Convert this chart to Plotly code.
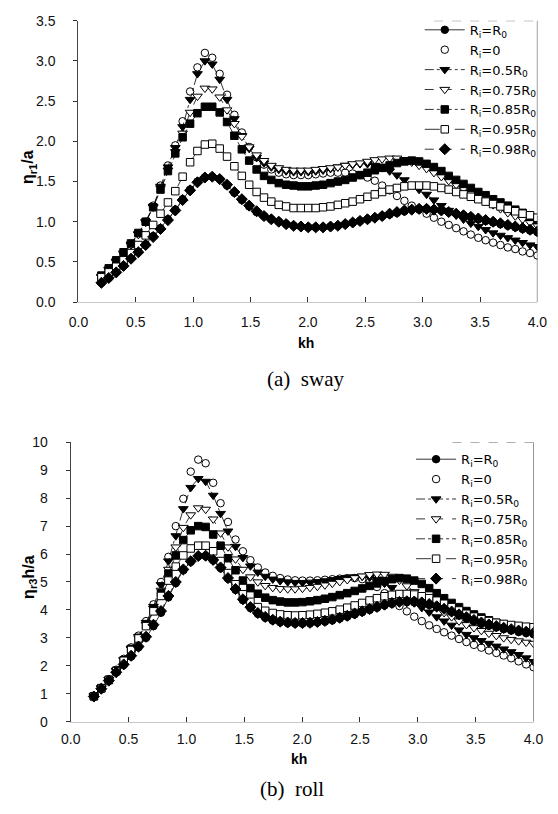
import plotly.graph_objects as go

# ---------------- data ----------------
kh = [0.200, 0.264, 0.329, 0.393, 0.458, 0.522, 0.586, 0.651, 0.715, 0.780,
      0.844, 0.908, 0.973, 1.037, 1.102, 1.166, 1.231, 1.295, 1.359, 1.424,
      1.488, 1.553, 1.617, 1.681, 1.746, 1.810, 1.875, 1.939, 2.003, 2.068,
      2.132, 2.197, 2.261, 2.325, 2.390, 2.454, 2.519, 2.583, 2.647, 2.712,
      2.776, 2.841, 2.905, 2.969, 3.034, 3.098, 3.163, 3.227, 3.292, 3.356,
      3.420, 3.485, 3.549, 3.614, 3.678, 3.742, 3.807, 3.871, 3.936, 4.000]

legend_names = ["R<sub>i</sub>=R<sub>0</sub>", "R<sub>i</sub>=0", "R<sub>i</sub>=0.5R<sub>0</sub>",
                "R<sub>i</sub>=0.75R<sub>0</sub>", "R<sub>i</sub>=0.85R<sub>0</sub>",
                "R<sub>i</sub>=0.95R<sub>0</sub>", "R<sub>i</sub>=0.98R<sub>0</sub>"]

# (a) sway  eta_r1/a
sway_R0 = [0.24,0.30,0.38,0.46,0.55,0.63,0.72,0.82,0.92,1.03,1.15,1.28,1.40,1.50,1.55,1.56,1.53,1.45,1.36,1.27,
           1.19,1.12,1.07,1.03,1.00,0.97,0.95,0.94,0.93,0.93,0.93,0.94,0.95,0.97,0.99,1.01,1.03,1.05,1.07,1.09,
           1.11,1.13,1.15,1.16,1.16,1.15,1.14,1.12,1.10,1.08,1.06,1.03,1.01,0.99,0.97,0.95,0.93,0.91,0.89,0.87]
sway_0 = [0.32,0.41,0.51,0.61,0.72,0.85,1.00,1.20,1.45,1.70,1.95,2.25,2.62,2.92,3.10,3.04,2.84,2.58,2.33,2.11,
          1.93,1.80,1.71,1.65,1.61,1.59,1.58,1.58,1.58,1.59,1.60,1.61,1.61,1.61,1.60,1.58,1.55,1.51,1.45,1.39,
          1.32,1.26,1.20,1.15,1.10,1.05,1.00,0.96,0.92,0.88,0.84,0.80,0.77,0.74,0.71,0.68,0.66,0.63,0.61,0.58]
sway_050 = [0.32,0.41,0.51,0.61,0.72,0.85,1.00,1.19,1.44,1.68,1.92,2.18,2.52,2.84,3.00,2.96,2.77,2.52,2.28,2.07,
            1.91,1.80,1.73,1.68,1.65,1.63,1.62,1.62,1.62,1.63,1.64,1.66,1.68,1.70,1.71,1.72,1.72,1.70,1.67,1.63,
            1.58,1.52,1.46,1.40,1.34,1.27,1.20,1.14,1.08,1.03,0.98,0.94,0.90,0.86,0.83,0.80,0.77,0.74,0.71,0.69]
sway_075 = [0.31,0.40,0.50,0.60,0.71,0.84,0.99,1.18,1.42,1.64,1.87,2.10,2.36,2.56,2.66,2.65,2.55,2.39,2.22,2.06,
            1.93,1.83,1.76,1.70,1.67,1.65,1.64,1.64,1.64,1.65,1.66,1.67,1.68,1.70,1.72,1.73,1.75,1.77,1.78,1.79,
            1.79,1.77,1.74,1.70,1.66,1.61,1.56,1.51,1.46,1.41,1.36,1.31,1.26,1.21,1.16,1.11,1.07,1.03,0.99,0.95]
sway_085 = [0.33,0.42,0.52,0.62,0.73,0.86,1.00,1.18,1.40,1.63,1.85,2.05,2.22,2.35,2.43,2.43,2.36,2.24,2.07,1.90,
            1.76,1.65,1.57,1.52,1.48,1.46,1.45,1.44,1.44,1.45,1.46,1.48,1.50,1.52,1.55,1.58,1.61,1.64,1.67,1.70,
            1.73,1.75,1.76,1.75,1.72,1.68,1.63,1.57,1.52,1.47,1.42,1.37,1.33,1.28,1.24,1.20,1.15,1.11,1.06,1.02]
sway_095 = [0.31,0.37,0.44,0.52,0.61,0.71,0.83,0.96,1.10,1.24,1.38,1.56,1.74,1.88,1.96,1.97,1.91,1.81,1.69,1.57,
            1.46,1.37,1.30,1.25,1.21,1.19,1.17,1.17,1.17,1.17,1.18,1.19,1.21,1.23,1.25,1.28,1.31,1.34,1.37,1.40,
            1.42,1.44,1.45,1.45,1.45,1.44,1.42,1.40,1.37,1.34,1.31,1.28,1.25,1.22,1.19,1.16,1.13,1.10,1.08,1.05]
sway_098 = [0.24,0.30,0.37,0.45,0.54,0.62,0.71,0.81,0.91,1.02,1.14,1.27,1.39,1.49,1.55,1.56,1.53,1.46,1.37,1.28,
            1.20,1.13,1.07,1.03,1.00,0.97,0.95,0.94,0.93,0.93,0.93,0.94,0.95,0.97,0.99,1.01,1.03,1.05,1.07,1.10,
            1.12,1.14,1.15,1.16,1.16,1.15,1.14,1.12,1.10,1.08,1.06,1.04,1.02,1.00,0.98,0.96,0.94,0.92,0.90,0.88]

# (b) roll  eta_r3 h/a
roll_R0 = [0.90,1.18,1.46,1.76,2.03,2.33,2.66,3.00,3.42,3.90,4.45,4.96,5.42,5.72,5.92,5.93,5.78,5.50,5.12,4.72,
           4.35,4.07,3.86,3.72,3.62,3.56,3.53,3.51,3.51,3.52,3.55,3.58,3.63,3.69,3.76,3.84,3.92,4.00,4.08,4.16,
           4.22,4.26,4.28,4.27,4.24,4.18,4.10,4.00,3.90,3.80,3.69,3.59,3.50,3.43,3.37,3.31,3.26,3.21,3.17,3.13]
roll_0 = [0.93,1.22,1.52,1.86,2.25,2.66,3.08,3.60,4.20,5.00,5.90,7.00,7.98,8.95,9.38,9.25,8.55,7.82,7.15,6.52,
          6.10,5.78,5.52,5.34,5.22,5.14,5.09,5.06,5.05,5.05,5.06,5.08,5.10,5.12,5.14,5.14,5.10,5.00,4.82,4.60,
          4.38,4.14,3.95,3.76,3.60,3.45,3.32,3.20,3.08,2.96,2.85,2.75,2.65,2.55,2.46,2.37,2.27,2.16,2.05,1.95]
roll_050 = [0.92,1.21,1.51,1.84,2.22,2.63,3.05,3.55,4.12,4.90,5.75,6.65,7.62,8.38,8.70,8.60,8.10,7.45,6.82,6.27,
            5.87,5.57,5.35,5.20,5.10,5.04,5.00,4.98,4.98,4.99,5.01,5.04,5.08,5.12,5.16,5.18,5.20,5.17,5.10,4.95,
            4.80,4.60,4.42,4.25,4.08,3.92,3.75,3.60,3.45,3.28,3.12,3.00,2.90,2.80,2.70,2.60,2.50,2.40,2.28,2.15]
roll_075 = [0.91,1.20,1.50,1.82,2.20,2.60,3.00,3.48,4.05,4.70,5.45,6.25,6.95,7.40,7.65,7.60,7.25,6.75,6.25,5.82,
            5.45,5.18,5.00,4.87,4.80,4.76,4.75,4.75,4.77,4.80,4.84,4.89,4.95,5.01,5.08,5.15,5.21,5.26,5.28,5.27,
            5.20,5.06,4.86,4.65,4.45,4.25,4.07,3.90,3.75,3.60,3.47,3.36,3.26,3.16,3.08,3.00,2.94,2.89,2.84,2.80]
roll_085 = [0.91,1.20,1.50,1.82,2.20,2.60,3.00,3.45,4.00,4.60,5.30,5.95,6.50,6.85,7.00,6.97,6.70,6.30,5.85,5.42,
            5.05,4.78,4.58,4.44,4.35,4.30,4.27,4.27,4.28,4.31,4.35,4.40,4.46,4.53,4.60,4.68,4.77,4.86,4.95,5.03,
            5.10,5.14,5.12,5.05,4.93,4.78,4.60,4.42,4.25,4.10,3.96,3.84,3.73,3.63,3.54,3.47,3.40,3.34,3.29,3.25]
roll_095 = [0.91,1.19,1.49,1.81,2.18,2.57,2.98,3.42,3.95,4.50,5.05,5.55,5.95,6.20,6.30,6.30,6.10,5.75,5.32,4.92,
            4.56,4.29,4.10,3.97,3.89,3.84,3.81,3.80,3.81,3.83,3.86,3.90,3.95,4.01,4.08,4.16,4.25,4.34,4.42,4.49,
            4.54,4.57,4.57,4.55,4.49,4.42,4.33,4.22,4.10,3.98,3.86,3.76,3.67,3.60,3.54,3.50,3.46,3.43,3.40,3.38]
roll_098 = [0.90,1.18,1.47,1.77,2.05,2.36,2.69,3.04,3.47,3.96,4.50,5.00,5.45,5.74,5.93,5.94,5.79,5.52,5.14,4.75,
            4.38,4.10,3.89,3.75,3.65,3.58,3.55,3.53,3.53,3.54,3.57,3.61,3.66,3.72,3.79,3.87,3.95,4.03,4.11,4.19,
            4.25,4.29,4.31,4.30,4.27,4.21,4.13,4.04,3.94,3.84,3.74,3.64,3.55,3.48,3.42,3.36,3.31,3.26,3.22,3.18]

x_ticks = [0.0, 0.5, 1.0, 1.5, 2.0, 2.5, 3.0, 3.5, 4.0]

sway_series = [sway_R0, sway_0, sway_050, sway_075, sway_085, sway_095, sway_098]
roll_series = [roll_R0, roll_0, roll_050, roll_075, roll_085, roll_095, roll_098]

# ---------------- styles ----------------
styles = [
    dict(symbol="circle", fill="black", size=7.5, dash="solid", mode="lines+markers"),
    dict(symbol="circle", fill="white", size=7.5, dash="solid", mode="markers"),
    dict(symbol="triangle-down", fill="black", size=8.5, dash="dashdot", mode="lines+markers"),
    dict(symbol="triangle-down", fill="white", size=8.5, dash="dash", mode="lines+markers"),
    dict(symbol="square", fill="black", size=7.5, dash="dashdot", mode="lines+markers"),
    dict(symbol="square", fill="white", size=7.5, dash="longdash", mode="lines+markers"),
    dict(symbol="diamond", fill="black", size=8.5, dash="dash", mode="lines+markers"),
]

FONT = "Liberation Sans, Arial, sans-serif"
LFONT = "DejaVu Sans, Liberation Sans, sans-serif"
fig = go.Figure()

for series, xa, ya, lg in [(sway_series, "x", "y", "legend"),
                           (roll_series, "x2", "y2", "legend2")]:
    for name, vals, st in zip(legend_names, series, styles):
        fig.add_trace(go.Scatter(
            x=kh, y=vals, name=name, mode=st["mode"], xaxis=xa, yaxis=ya, legend=lg,
            line=dict(color="black", width=0.8, dash=st["dash"]),
            marker=dict(symbol=st["symbol"], size=st["size"], color=st["fill"],
                        line=dict(color="black", width=1)),
        ))

W, H = 558, 814
top_x = [71 / W, 547 / W]
top_y = [(H - 300) / H, (H - 13) / H]
bot_x = [63 / W, 543 / W]
bot_y = [(H - 728) / H, (H - 443) / H]

tickfont = dict(family=FONT, size=14, color="#111")
common_x = dict(range=[0, 4], tickvals=x_ticks, tickformat=".1f", ticks="inside", ticklen=5,
                tickcolor="#333", showline=True, linecolor="#c8c8c8", linewidth=1,
                showgrid=False, zeroline=False, tickfont=tickfont)
common_y = dict(ticks="outside", ticklen=4, tickcolor="#333", showline=True, linecolor="#444",
                linewidth=1.2, showgrid=False, zeroline=False, tickfont=tickfont,
                ticklabelstandoff=15)

legend_common = dict(xanchor="left", yanchor="top",
                     font=dict(family=LFONT, size=13, color="black"),
                     bgcolor="rgba(0,0,0,0)", itemwidth=40, tracegroupgap=0)

fig.update_layout(
    width=W, height=H, margin=dict(l=0, r=0, t=0, b=0),
    paper_bgcolor="white", plot_bgcolor="white",
    xaxis=dict(domain=top_x, anchor="y", ticklabelstandoff=7, **common_x),
    yaxis=dict(domain=top_y, anchor="x", range=[0, 3.5], dtick=0.5, tickformat=".1f", **common_y),
    xaxis2=dict(domain=bot_x, anchor="y2", ticklabelstandoff=5, **common_x),
    yaxis2=dict(domain=bot_y, anchor="x2", range=[0, 10], dtick=1, **common_y),
    legend=dict(x=425 / W, y=(H - 7) / H, **legend_common),
    legend2=dict(x=416 / W, y=(H - 445) / H, **legend_common),
    showlegend=True,
)

# right-hand frame lines and faint top edges
fig.add_shape(type="line", xref="x", yref="y", x0=4, x1=4, y0=0, y1=3.5,
              line=dict(color="#333", width=1))
fig.add_shape(type="line", xref="x2", yref="y2", x0=4, x1=4, y0=0, y1=10,
              line=dict(color="#333", width=1))
fig.add_shape(type="line", xref="x", yref="y", x0=3.1, x1=4, y0=3.5, y1=3.5,
              line=dict(color="#777", width=1, dash="dash"))
fig.add_shape(type="line", xref="x2", yref="y2", x0=3.3, x1=4, y0=10, y1=10,
              line=dict(color="#777", width=1, dash="dash"))

ann = []
ann.append(dict(text="<b>η<sub>r1</sub>/a</b>", x=20 / W, y=(H - 162) / H, textangle=-90,
                font=dict(family=FONT, size=16, color="black")))
ann.append(dict(text="<b>η<sub>r3</sub>h/a</b>", x=20 / W, y=(H - 580) / H, textangle=-90,
                font=dict(family=FONT, size=16, color="black")))
ann.append(dict(text="<b>kh</b>", x=307 / W, y=(H - 342) / H,
                font=dict(family=FONT, size=14, color="black")))
ann.append(dict(text="<b>kh</b>", x=300 / W, y=(H - 766) / H,
                font=dict(family=FONT, size=14, color="black")))
ann.append(dict(text="(a)  sway", x=307 / W, y=(H - 378) / H,
                font=dict(family="Liberation Serif, Times New Roman, serif", size=21, color="black")))
ann.append(dict(text="(b)  roll", x=292 / W, y=(H - 797) / H,
                font=dict(family="Liberation Serif, Times New Roman, serif", size=21, color="black")))
for a in ann:
    a.update(xref="paper", yref="paper", showarrow=False, xanchor="center", yanchor="middle")
fig.update_layout(annotations=ann)

fig.write_html("out.html")
